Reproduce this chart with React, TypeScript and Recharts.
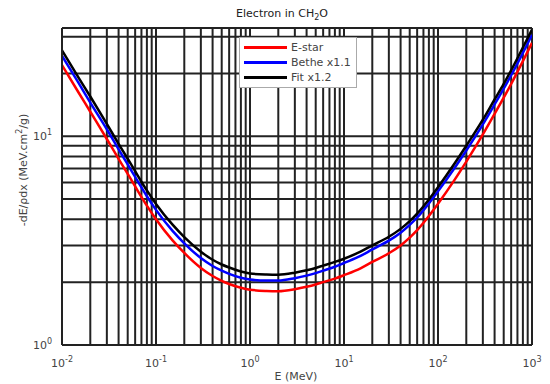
import { LineChart, Line, XAxis, YAxis, CartesianGrid } from "recharts";

const energies = [
  0.01, 0.015, 0.02, 0.03, 0.04, 0.05, 0.06, 0.08, 0.1, 0.15, 0.2, 0.3, 0.4, 0.5, 0.6, 0.8, 1, 1.5, 2, 3, 4, 5, 6,
  8, 10, 15, 20, 30, 40, 50, 60, 80, 100, 150, 200, 300, 400, 500, 600, 800, 1000,
];

const estar = [
  21.9, 16.2, 13.1, 9.7, 7.8, 6.6, 5.75, 4.65, 4.0, 3.17, 2.76, 2.34, 2.14, 2.03, 1.96, 1.88, 1.84, 1.815, 1.81, 1.85,
  1.9, 1.95, 2.0, 2.08, 2.16, 2.33, 2.5, 2.75, 3.0, 3.27, 3.55, 4.15, 4.75, 6.18, 7.56, 10.2, 12.8, 15.3, 17.8, 22.9,
  28.0,
];

const bethe = [
  24.3, 18.0, 14.5, 10.8, 8.66, 7.33, 6.38, 5.16, 4.44, 3.52, 3.07, 2.61, 2.39, 2.27, 2.19, 2.1, 2.06, 2.035, 2.035,
  2.09, 2.15, 2.21, 2.27, 2.37, 2.47, 2.67, 2.87, 3.16, 3.45, 3.76, 4.08, 4.77, 5.45, 7.05, 8.55, 11.4, 14.2, 16.9,
  19.6, 25.1, 30.6,
];

const fit = [
  25.8, 19.1, 15.5, 11.45, 9.2, 7.8, 6.8, 5.5, 4.74, 3.77, 3.29, 2.8, 2.56, 2.43, 2.35, 2.25, 2.2, 2.175, 2.17, 2.22,
  2.28, 2.34, 2.4, 2.5, 2.59, 2.8, 3.0, 3.3, 3.6, 3.92, 4.26, 4.98, 5.7, 7.4, 9.0, 12.0, 15.0, 17.8, 20.7, 26.6, 32.4,
];

const seriesNames = ["E-star", "Bethe x1.1", "Fit x1.2"];
const seriesColors = ["#ff0000", "#0000ff", "#000000"];

const xDecades = [0.01, 0.1, 1, 10, 100, 1000];
const xExponents = ["-2", "-1", "0", "1", "2", "3"];
const yTicks = [1, 2, 3, 4, 5, 6, 7, 8, 9, 10, 20, 30, 33];
const yLabelled = [1, 10];
const yExponents = ["0", "1"];

const xTicks: number[] = [];
xDecades.slice(0, -1).forEach((d) => {
  for (let k = 1; k < 10; k++) xTicks.push(+(d * k).toPrecision(3));
});
xTicks.push(1000);

const data = energies.map((e, i) => ({ e, estar: estar[i], bethe: bethe[i], fit: fit[i] }));

const FONT = "DejaVu Sans, sans-serif";

const XTick = ({ x, y, payload }: any) => {
  const idx = xDecades.indexOf(payload.value);
  if (idx < 0) return null;
  return (
    <text x={x} y={y + 14} textAnchor="middle" fontSize={11} fill="#444" fontFamily={FONT}>
      <tspan>10</tspan>
      <tspan dy={-5} fontSize={8}>
        {xExponents[idx]}
      </tspan>
    </text>
  );
};

const YTick = ({ x, y, payload }: any) => {
  const idx = yLabelled.indexOf(payload.value);
  if (idx < 0) return null;
  return (
    <text x={x - 2} y={y + 4} textAnchor="end" fontSize={11} fill="#444" fontFamily={FONT}>
      <tspan>10</tspan>
      <tspan dy={-5} fontSize={8}>
        {yExponents[idx]}
      </tspan>
    </text>
  );
};

export default function App() {
  return (
    <div style={{ position: "absolute", left: 0, top: 0, width: 550, height: 384, background: "#fff" }}>
      <LineChart width={550} height={384} data={data} margin={{ top: 28, right: 18, left: 0, bottom: 0 }}>
        <CartesianGrid stroke="#222" strokeWidth={2} />
        <XAxis
          dataKey="e"
          type="number"
          scale="log"
          domain={[0.01, 1000]}
          ticks={xTicks}
          interval={0}
          allowDataOverflow
          tick={<XTick />}
          tickLine={false}
          axisLine={{ stroke: "#222", strokeWidth: 2 }}
          height={39}
        />
        <YAxis
          type="number"
          scale="log"
          domain={[1, 33]}
          ticks={yTicks}
          interval={0}
          allowDataOverflow
          tick={<YTick />}
          tickLine={false}
          axisLine={{ stroke: "#222", strokeWidth: 2 }}
          width={62}
        />
        <Line type="monotone" dataKey="estar" name={seriesNames[0]} stroke={seriesColors[0]} strokeWidth={2.5} dot={false} isAnimationActive={false} />
        <Line type="monotone" dataKey="bethe" name={seriesNames[1]} stroke={seriesColors[1]} strokeWidth={2.5} dot={false} isAnimationActive={false} />
        <Line type="monotone" dataKey="fit" name={seriesNames[2]} stroke={seriesColors[2]} strokeWidth={2.5} dot={false} isAnimationActive={false} />
        <text x={282} y={17} textAnchor="middle" fontSize={11} fill="#222" fontFamily={FONT}>
          Electron in CH
          <tspan dy={3} fontSize={8}>
            2
          </tspan>
          <tspan dy={-3}>O</tspan>
        </text>
        <text x={296} y={380} textAnchor="middle" fontSize={11} fill="#444" fontFamily={FONT}>
          E (MeV)
        </text>
        <text
          x={27}
          y={170}
          textAnchor="middle"
          fontSize={11}
          fill="#444"
          fontFamily={FONT}
          transform="rotate(-90 27 170)"
        >
          -dE/ρdx (MeV.cm
          <tspan dy={-5} fontSize={8}>
            2
          </tspan>
          <tspan dy={5}>/g)</tspan>
        </text>
      </LineChart>
      <div
        style={{
          position: "absolute",
          left: 239,
          top: 37,
          width: 108,
          background: "#fff",
          border: "1px solid #aaa",
          padding: "2px 4px",
          fontFamily: FONT,
          fontSize: 11,
          color: "#444",
          lineHeight: "15px",
          whiteSpace: "nowrap",
        }}
      >
        {seriesNames.map((n, i) => (
          <div key={n} style={{ display: "flex", alignItems: "center" }}>
            <span style={{ display: "inline-block", width: 43, height: 3, background: seriesColors[i], marginRight: 4 }} />
            {n}
          </div>
        ))}
      </div>
    </div>
  );
}
